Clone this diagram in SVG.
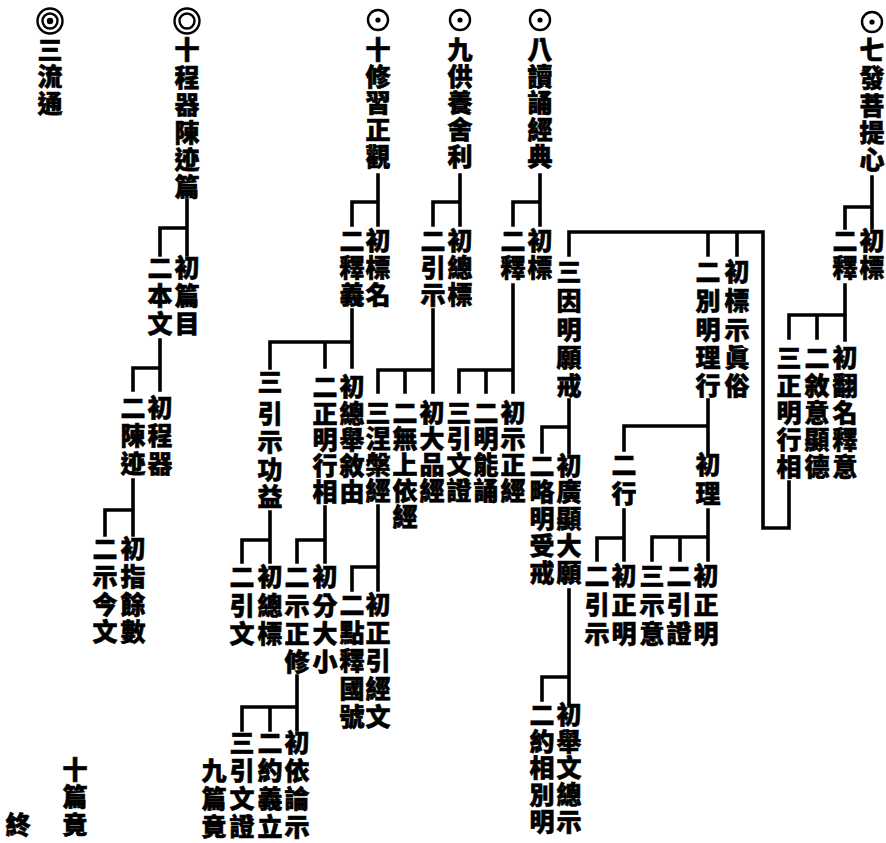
<svg xmlns="http://www.w3.org/2000/svg" width="886" height="843" viewBox="0 0 886 843">
<style>
.t{font-family:"Noto Sans CJK TC","Noto Sans CJK SC",sans-serif;font-size:25px;font-weight:900;text-anchor:middle;fill:#000;stroke:#000;stroke-width:0.6}
.c{fill:none;stroke:#000;stroke-width:3.6;stroke-linecap:square}
.ring{fill:none;stroke:#000;stroke-width:2.4}
</style>
<rect width="886" height="843" fill="#fff"/>
<g id="connectors" class="c">
<path d="M187 200V255M160 255V228H187"/>
<path d="M160 340V390M133 390V368H160"/>
<path d="M133 480V535M105 535V510H133"/>
<path d="M378 175V225M352 225V202H378"/>
<path d="M352 310V367M270 368V342H352M325 342V367"/>
<path d="M270 512V562M242 562V540H270"/>
<path d="M325 507V562M297 562V540H325"/>
<path d="M297 676V730M242 730V707H297M270 707V730"/>
<path d="M460 175V225M433 225V202H460"/>
<path d="M433 310V392M378 392V370H433M405 370V392"/>
<path d="M378 506V590M352 590V567H378"/>
<path d="M540 175V225M513 225V202H540"/>
<path d="M513 285V392M459 392V370H513M486 370V392"/>
<path d="M872 177V228M845 228V207H872"/>
<path d="M845 285V340M789 338V315H845M817 315V338"/>
<path d="M789 482V528H763V232H569V255M737 232V255M708 232V255"/>
<path d="M708 400V453M624 450V426H708"/>
<path d="M708 510V560M652 560V537H708M680 537V560"/>
<path d="M624 510V560M597 560V538H624"/>
<path d="M569 400V453M542 452V427H569"/>
<path d="M569 590V703M542 700V677H569"/>
</g>
<g id="n-liutong"><circle class="ring" cx="50" cy="21" r="12.5"/><circle class="ring" cx="50" cy="21" r="7.5"/><circle cx="50" cy="21" r="3.2"/><text class="t" x="50 50 50" y="59 86 113">三流通</text></g>
<g id="n-10chengqi"><circle class="ring" cx="187" cy="21" r="12.5"/><circle class="ring" cx="187" cy="21" r="7.5"/><text class="t" x="187 187 187 187 187 187" y="59 87 114 142 169 196">十程器陳迹篇</text></g>
<g id="n-pianmu"><text class="t" x="187 187 187" y="277 305 333">初篇目</text></g>
<g id="n-benwen"><text class="t" x="160 160 160" y="277 305 333">二本文</text></g>
<g id="n-chengqi"><text class="t" x="160 160 160" y="417 445 473">初程器</text></g>
<g id="n-chenji"><text class="t" x="133 133 133" y="417 445 473">二陳迹</text></g>
<g id="n-zhiyu"><text class="t" x="133 133 133 133" y="558 586 614 641">初指餘數</text></g>
<g id="n-shijin"><text class="t" x="105 105 105 105" y="558 586 614 641">二示今文</text></g>
<g id="n-10pianjing"><text class="t" x="75 75 75" y="779 806 834">十篇竟</text></g>
<g id="n-zhong"><text class="t" x="18" y="834">終</text></g>

<g id="n-10xiuxi"><circle class="ring" cx="378" cy="20" r="10"/><circle cx="378" cy="20" r="2.6"/><text class="t" x="378 378 378 378 378" y="59 86 112 139 166">十修習正觀</text></g>
<g id="n-biaoming"><text class="t" x="378 378 378" y="250 277 304">初標名</text></g>
<g id="n-shiyi"><text class="t" x="352 352 352" y="250 277 304">二釋義</text></g>
<g id="n-zongju"><text class="t" x="352 352 352 352 352" y="396 423 449 475 501">初總舉敘由</text></g>
<g id="n-zhengming"><text class="t" x="325 325 325 325 325" y="396 423 449 475 501">二正明行相</text></g>
<g id="n-yinshi"><text class="t" x="270 270 270 270 270" y="391 423 451 479 506">三引示功益</text></g>
<g id="n-zongbiao1"><text class="t" x="270 270 270" y="586 615 643">初總標</text></g>
<g id="n-yinwen1"><text class="t" x="242 242 242" y="586 615 643">二引文</text></g>
<g id="n-fendaxiao"><text class="t" x="325 325 325 325" y="586 615 643 671">初分大小</text></g>
<g id="n-shizhengxiu"><text class="t" x="297 297 297 297" y="586 615 643 671">二示正修</text></g>
<g id="n-yilun"><text class="t" x="297 297 297 297" y="752 780 808 836">初依論示</text></g>
<g id="n-yueyi"><text class="t" x="270 270 270 270" y="752 780 808 836">二約義立</text></g>
<g id="n-yinwenzheng1"><text class="t" x="242 242 242 242" y="752 780 808 836">三引文證</text></g>
<g id="n-9pianjing"><text class="t" x="214 214 214" y="780 808 836">九篇竟</text></g>

<g id="n-9gongyang"><circle class="ring" cx="460" cy="20" r="10"/><circle cx="460" cy="20" r="2.6"/><text class="t" x="460 460 460 460 460" y="59 86 112 139 166">九供養舍利</text></g>
<g id="n-zongbiao2"><text class="t" x="460 460 460" y="250 277 304">初總標</text></g>
<g id="n-yinshi2"><text class="t" x="433 433 433" y="250 277 304">二引示</text></g>
<g id="n-dapin"><text class="t" x="432 432 432 432" y="422 448 474 500">初大品經</text></g>
<g id="n-wushang"><text class="t" x="405 405 405 405 405" y="422 448 474 500 526">二無上依經</text></g>
<g id="n-niepan"><text class="t" x="378 378 378 378" y="422 448 474 500">三涅槃經</text></g>
<g id="n-zhengyin"><text class="t" x="378 378 378 378 378" y="614 642 670 698 726">初正引經文</text></g>
<g id="n-dianshi"><text class="t" x="352 352 352 352 352" y="614 642 670 698 726">二點釋國號</text></g>

<g id="n-8dusong"><circle class="ring" cx="540" cy="20" r="10"/><circle cx="540" cy="20" r="2.6"/><text class="t" x="540 540 540 540 540" y="59 86 112 139 166">八讀誦經典</text></g>
<g id="n-biao8"><text class="t" x="540 540" y="250 277">初標</text></g>
<g id="n-shi8"><text class="t" x="513 513" y="250 277">二釋</text></g>
<g id="n-shizhengjing"><text class="t" x="513 513 513 513" y="422 448 474 500">初示正經</text></g>
<g id="n-mingneng"><text class="t" x="486 486 486 486" y="422 448 474 500">二明能誦</text></g>
<g id="n-yinwenzheng8"><text class="t" x="459 459 459 459" y="422 448 474 500">三引文證</text></g>

<g id="n-7faputi"><circle class="ring" cx="872" cy="22" r="10"/><circle cx="872" cy="22" r="2.6"/><text class="t" x="872 872 872 872 872" y="59 87 115 142 169">七發菩提心</text></g>
<g id="n-biao7"><text class="t" x="872 872" y="250 277">初標</text></g>
<g id="n-shi7"><text class="t" x="845 845" y="250 277">二釋</text></g>
<g id="n-fanming"><text class="t" x="845 845 845 845 845" y="367 395 422 449 476">初翻名釋意</text></g>
<g id="n-xuyi"><text class="t" x="817 817 817 817 817" y="367 395 422 449 476">二敘意顯德</text></g>
<g id="n-zhengmingxing"><text class="t" x="789 789 789 789 789" y="367 395 422 449 476">三正明行相</text></g>
<g id="n-biaoshi"><text class="t" x="737 737 737 737 737" y="281 310 339 367 395">初標示眞俗</text></g>
<g id="n-bieming"><text class="t" x="708 708 708 708 708" y="281 310 339 367 395">二別明理行</text></g>
<g id="n-yinming"><text class="t" x="569 569 569 569 569" y="281 310 339 367 395">三因明願戒</text></g>
<g id="n-li"><text class="t" x="708 708" y="474 503">初理</text></g>
<g id="n-xing"><text class="t" x="624 624" y="474 503">二行</text></g>
<g id="n-li-zhengming"><text class="t" x="706 706 706" y="585 614 643">初正明</text></g>
<g id="n-li-yinzheng"><text class="t" x="679 679 679" y="585 614 643">二引證</text></g>
<g id="n-li-shiyi"><text class="t" x="652 652 652" y="585 614 643">三示意</text></g>
<g id="n-xing-zhengming"><text class="t" x="624 624 624" y="585 614 643">初正明</text></g>
<g id="n-xing-yinshi"><text class="t" x="597 597 597" y="585 614 643">二引示</text></g>
<g id="n-guangxian"><text class="t" x="569 569 569 569 569" y="475 501 528 555 582">初廣顯大願</text></g>
<g id="n-lueming"><text class="t" x="542 542 542 542 542" y="475 501 528 555 582">二略明受戒</text></g>
<g id="n-juwen"><text class="t" x="569 569 569 569 569" y="724 751 777 804 831">初舉文總示</text></g>
<g id="n-yuexiang"><text class="t" x="542 542 542 542 542" y="724 751 777 804 831">二約相別明</text></g>
</svg>
